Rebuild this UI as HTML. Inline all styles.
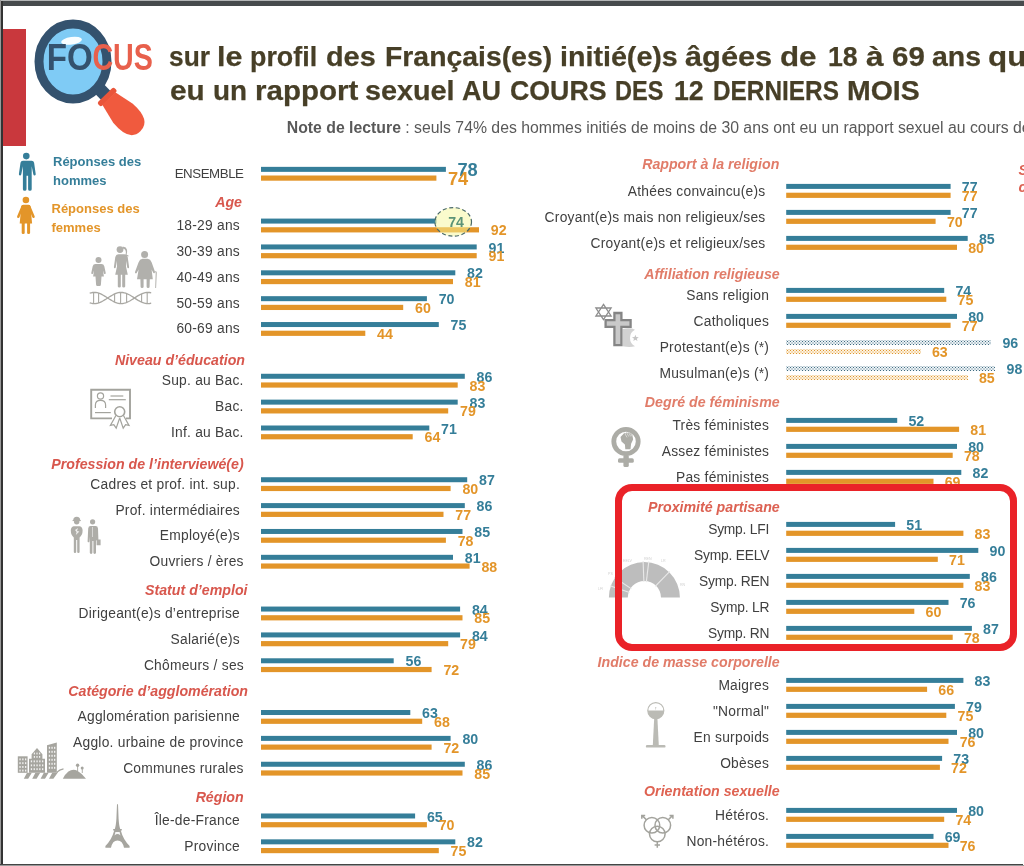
<!DOCTYPE html>
<html lang="fr"><head><meta charset="utf-8"><title>Focus</title>
<style>
html,body{margin:0;padding:0;}
body{width:1024px;height:866px;position:relative;overflow:hidden;background:#fff;font-family:"Liberation Sans", sans-serif;}
.a{position:absolute;white-space:nowrap;}
.b{position:absolute;height:4.8px;}
.bl{background:#357e99;}
.or{background:#e39529;}
.lab{position:absolute;white-space:nowrap;font-size:13.8px;letter-spacing:0.25px;color:#404040;text-align:right;line-height:16px;}
.hd{position:absolute;white-space:nowrap;font-size:14.2px;font-weight:bold;font-style:italic;color:#d65f55;text-align:right;line-height:16px;}
.n{position:absolute;white-space:nowrap;font-size:14.2px;font-weight:bold;line-height:14px;}
.nb{color:#357e99;}
.no{color:#e39529;}
.tw{position:absolute;white-space:nowrap;transform-origin:0 0;font-size:28px;font-weight:bold;color:#473f27;line-height:30px;-webkit-text-stroke:0.25px #473f27;}
.dotb{background-color:#ecf2f5;background-image:radial-gradient(circle,#3f6b80 0.55px,transparent 0.9px),radial-gradient(circle,#3f6b80 0.55px,transparent 0.9px);background-size:3px 3px;background-position:0 0,1.5px 1.5px;}
.doto{background-color:#fdf2e0;background-image:radial-gradient(circle,#dd952f 0.55px,transparent 0.9px),radial-gradient(circle,#dd952f 0.55px,transparent 0.9px);background-size:3px 3px;background-position:0 0,1.5px 1.5px;}
</style></head><body>

<div class="a" style="left:0;top:0;width:1024px;height:1.2px;background:#b4b6b7"></div>
<div class="a" style="left:0;top:1.2px;width:1024px;height:4.5px;background:#474b4d"></div>
<div class="a" style="left:0;top:0;width:1.2px;height:866px;background:#9a9a9a"></div>
<div class="a" style="left:1.2px;top:1px;width:1.5px;height:865px;background:#333"></div>
<div class="a" style="left:0;top:863.8px;width:1023px;height:1.4px;background:#444"></div>
<div class="a" style="left:0;top:865.2px;width:1024px;height:0.8px;background:#9a9a9a"></div>
<div class="a" style="left:2.6px;top:28.6px;width:23.7px;height:117.4px;background:#c9383d"></div>
<svg class="a" style="left:20px;top:10px" width="140" height="135" viewBox="20 10 140 135">
<g transform="translate(73 61.5) rotate(46)"><rect x="34" y="-6.5" width="15" height="13" fill="#34526e"/>
<rect x="46.5" y="-11.5" width="5.5" height="23" rx="2" fill="#e9553a"/>
<path d="M51.5 -9 L72 -13.6 Q97 -15.5 97 0 Q97 15.5 72 13.6 L51.5 9 Z" fill="#f05a3e"/></g>
<ellipse cx="73" cy="61.5" rx="34" ry="37.5" fill="#7fcbf5" stroke="#34526e" stroke-width="9"/>
<ellipse cx="71.5" cy="40.8" rx="10.5" ry="3.8" fill="#fff" opacity="0.95" transform="rotate(-8 71.5 40.5)"/>
<text x="46.8" y="70.2" font-family="Liberation Sans, sans-serif" font-weight="bold" font-size="36" textLength="46" lengthAdjust="spacingAndGlyphs" fill="#34526e">FO</text>
<text x="92.4" y="70.2" font-family="Liberation Sans, sans-serif" font-weight="bold" font-size="36" textLength="60.5" lengthAdjust="spacingAndGlyphs" fill="#e8604c">CUS</text>
</svg>
<span class="tw" style="left:169.0px;top:42.0px;letter-spacing:0.00px;transform:scaleX(0.940)">sur</span>
<span class="tw" style="left:216.5px;top:42.0px;letter-spacing:0.00px;transform:scaleX(1.083)">le</span>
<span class="tw" style="left:250.3px;top:42.0px;letter-spacing:0.00px;transform:scaleX(0.959)">profil</span>
<span class="tw" style="left:325.9px;top:42.0px;letter-spacing:0.00px;transform:scaleX(1.030)">des</span>
<span class="tw" style="left:384.6px;top:42.0px;letter-spacing:0.00px;transform:scaleX(1.013)">Français(es)</span>
<span class="tw" style="left:559.6px;top:42.0px;letter-spacing:-0.00px;transform:scaleX(1.023)">initié(e)s</span>
<span class="tw" style="left:685.3px;top:42.0px;letter-spacing:0.00px;transform:scaleX(1.098)">âgées</span>
<span class="tw" style="left:780.3px;top:42.0px;letter-spacing:0.00px;transform:scaleX(1.117)">de</span>
<span class="tw" style="left:827.8px;top:42.0px;letter-spacing:0.00px;transform:scaleX(0.952)">18</span>
<span class="tw" style="left:865.9px;top:42.0px;letter-spacing:0.17px;transform:scaleX(1.130)">à</span>
<span class="tw" style="left:891.5px;top:42.0px;letter-spacing:0.00px;transform:scaleX(1.053)">69</span>
<span class="tw" style="left:932.1px;top:42.0px;letter-spacing:0.00px;transform:scaleX(1.017)">ans</span>
<span class="tw" style="left:988.4px;top:42.0px;letter-spacing:0.00px;transform:scaleX(1.119)">qui</span>
<span class="tw" style="left:169.7px;top:76.3px;letter-spacing:0.00px;transform:scaleX(1.060)">eu</span>
<span class="tw" style="left:213.4px;top:76.3px;letter-spacing:0.00px;transform:scaleX(0.995)">un</span>
<span class="tw" style="left:255.3px;top:76.3px;letter-spacing:0.00px;transform:scaleX(1.055)">rapport</span>
<span class="tw" style="left:364.6px;top:76.3px;letter-spacing:0.00px;transform:scaleX(1.028)">sexuel</span>
<span class="tw" style="left:462.1px;top:76.3px;letter-spacing:0.00px;transform:scaleX(0.965)">AU</span>
<span class="tw" style="left:509.6px;top:76.3px;letter-spacing:0.00px;transform:scaleX(0.955)">COURS</span>
<span class="tw" style="left:615.3px;top:76.3px;letter-spacing:0.00px;transform:scaleX(0.841)">DES</span>
<span class="tw" style="left:674.0px;top:76.3px;letter-spacing:0.00px;transform:scaleX(0.953)">12</span>
<span class="tw" style="left:713.4px;top:76.3px;letter-spacing:0.00px;transform:scaleX(0.870)">DERNIERS</span>
<span class="tw" style="left:847.1px;top:76.3px;letter-spacing:0.00px;transform:scaleX(1.017)">MOIS</span>
<div class="a" style="left:286.8px;top:119.2px;font-size:15.8px;line-height:18px;color:#595959"><b>Note de lecture</b> : seuls 74% des hommes initiés de moins de 30 ans ont eu un rapport sexuel au cours des 12 derniers mois</div>
<div class="hd" style="color:#dc6152;left:1018.4px;top:162.4px;text-align:left;line-height:17px">Situation<br>conjugale</div>
<svg class="a" style="left:14px;top:150px" width="26" height="90" viewBox="14 150 26 90">
<g fill="#357e99" transform="translate(-0.6 0.4)"><circle cx="26.9" cy="155.7" r="3.3"/>
<path d="M21.5 160.3 h10.8 q2 0 2.4 2 l1.6 11.2 q0.2 1.4 -1 1.5 q-1.1 0.1 -1.4 -1.2 l-1.6 -8 v23 q0 1.6 -1.8 1.6 q-1.8 0 -1.8 -1.6 v-13.5 h-1.6 v13.5 q0 1.6 -1.8 1.6 q-1.8 0 -1.8 -1.6 v-23 l-1.6 8 q-0.3 1.3 -1.4 1.2 q-1.2 -0.1 -1 -1.5 l1.6 -11.2 q0.4 -2 2.4 -2 z"/></g>
<g fill="#e39529"><circle cx="25.9" cy="200" r="3.3"/>
<path d="M23.3 204.8 h5.2 q1.6 0 2 1.6 l1.6 17.1 h-12.4 l1.6 -17.1 q0.4 -1.6 2 -1.6 z"/>
<rect x="21.7" y="222" width="3" height="12" rx="1.3"/><rect x="27.1" y="222" width="3" height="12" rx="1.3"/></g>
<g stroke="#e39529" stroke-width="2.5" stroke-linecap="round" fill="none"><path d="M22.6 206.4 L18.3 216.8 M29.2 206.4 L33.5 216.8"/></g>
</svg>
<div class="a" style="left:53px;top:152px;font-size:13px;font-weight:bold;line-height:19px;color:#357e99">Réponses des<br>hommes</div>
<div class="a" style="left:51.5px;top:198.5px;font-size:13px;font-weight:bold;line-height:19px;color:#e39529">Réponses des<br>femmes</div>
<div class="lab" style="right:780.5px;top:166.2px;font-size:13.3px;letter-spacing:-0.45px">ENSEMBLE</div>
<div class="n nb" style="left:457.4px;top:159.9px;font-size:18.3px;line-height:20px">78</div>
<div class="n no" style="left:447.9px;top:168.6px;font-size:18.3px;line-height:20px">74</div>
<div class="hd" style="right:782.0px;top:194.0px;color:#d8574d">Age</div>
<div class="lab" style="right:784.0px;top:218.0px">18-29 ans</div>
<div class="n no" style="left:490.8px;top:223.3px">92</div>
<div class="lab" style="right:784.0px;top:243.8px">30-39 ans</div>
<div class="n nb" style="left:488.5px;top:240.5px">91</div>
<div class="n no" style="left:488.5px;top:249.2px">91</div>
<div class="lab" style="right:784.0px;top:269.7px">40-49 ans</div>
<div class="n nb" style="left:467.1px;top:266.4px">82</div>
<div class="n no" style="left:464.8px;top:275.1px">81</div>
<div class="lab" style="right:784.0px;top:295.6px">50-59 ans</div>
<div class="n nb" style="left:438.7px;top:292.3px">70</div>
<div class="n no" style="left:415.0px;top:300.9px">60</div>
<div class="lab" style="right:784.0px;top:321.4px">60-69 ans</div>
<div class="n nb" style="left:450.6px;top:318.1px">75</div>
<div class="n no" style="left:377.1px;top:326.8px">44</div>
<div class="hd" style="right:779.0px;top:351.9px;color:#d8574d">Niveau d’éducation</div>
<div class="lab" style="right:780.3px;top:373.2px">Sup. au Bac.</div>
<div class="n nb" style="left:476.6px;top:369.9px">86</div>
<div class="n no" style="left:469.5px;top:378.5px">83</div>
<div class="lab" style="right:780.3px;top:399.0px">Bac.</div>
<div class="n nb" style="left:469.5px;top:395.7px">83</div>
<div class="n no" style="left:460.0px;top:404.4px">79</div>
<div class="lab" style="right:780.3px;top:424.9px">Inf. au Bac.</div>
<div class="n nb" style="left:441.1px;top:421.6px">71</div>
<div class="n no" style="left:424.5px;top:430.2px">64</div>
<div class="hd" style="right:780.3px;top:455.6px;color:#d8574d">Profession de l’interviewé(e)</div>
<div class="lab" style="right:784.0px;top:476.6px">Cadres et prof. int. sup.</div>
<div class="n nb" style="left:479.0px;top:473.3px">87</div>
<div class="n no" style="left:462.4px;top:482.0px">80</div>
<div class="lab" style="right:784.0px;top:502.5px">Prof. intermédiaires</div>
<div class="n nb" style="left:476.6px;top:499.2px">86</div>
<div class="n no" style="left:455.3px;top:507.8px">77</div>
<div class="lab" style="right:784.0px;top:528.4px">Employé(e)s</div>
<div class="n nb" style="left:474.3px;top:525.1px">85</div>
<div class="n no" style="left:457.7px;top:533.7px">78</div>
<div class="lab" style="right:780.3px;top:554.2px">Ouvriers / ères</div>
<div class="n nb" style="left:464.8px;top:550.9px">81</div>
<div class="n no" style="left:481.4px;top:559.6px">88</div>
<div class="hd" style="right:776.5px;top:582.4px;color:#d8574d">Statut d’emploi</div>
<div class="lab" style="right:784.0px;top:606.0px">Dirigeant(e)s d’entreprise</div>
<div class="n nb" style="left:471.9px;top:602.7px">84</div>
<div class="n no" style="left:474.3px;top:611.3px">85</div>
<div class="lab" style="right:784.0px;top:631.8px">Salarié(e)s</div>
<div class="n nb" style="left:471.9px;top:628.5px">84</div>
<div class="n no" style="left:460.0px;top:637.2px">79</div>
<div class="lab" style="right:780.0px;top:657.7px">Chômeurs / ses</div>
<div class="n nb" style="left:405.5px;top:654.4px">56</div>
<div class="n no" style="left:443.4px;top:663.0px">72</div>
<div class="hd" style="right:776.0px;top:683.1px;color:#d8574d">Catégorie d’agglomération</div>
<div class="lab" style="right:784.0px;top:709.4px">Agglomération parisienne</div>
<div class="n nb" style="left:422.1px;top:706.1px">63</div>
<div class="n no" style="left:434.0px;top:714.8px">68</div>
<div class="lab" style="right:780.3px;top:735.3px">Agglo. urbaine de province</div>
<div class="n nb" style="left:462.4px;top:732.0px">80</div>
<div class="n no" style="left:443.4px;top:740.6px">72</div>
<div class="lab" style="right:780.3px;top:761.1px">Communes rurales</div>
<div class="n nb" style="left:476.6px;top:757.8px">86</div>
<div class="n no" style="left:474.3px;top:766.5px">85</div>
<div class="hd" style="right:780.3px;top:788.6px;color:#d8574d">Région</div>
<div class="lab" style="right:784.0px;top:812.9px">Île-de-France</div>
<div class="n nb" style="left:426.9px;top:809.6px">65</div>
<div class="n no" style="left:438.7px;top:818.2px">70</div>
<div class="lab" style="right:784.0px;top:838.7px">Province</div>
<div class="n nb" style="left:467.1px;top:835.4px">82</div>
<div class="n no" style="left:450.6px;top:844.1px">75</div>
<div class="hd" style="right:244.7px;top:156.1px;color:#e17c69">Rapport à la religion</div>
<div class="lab" style="right:258.5px;top:183.9px">Athées convaincu(e)s</div>
<div class="n nb" style="left:961.8px;top:179.7px">77</div>
<div class="n no" style="left:961.8px;top:188.5px">77</div>
<div class="lab" style="right:258.5px;top:209.9px">Croyant(e)s mais non religieux/ses</div>
<div class="n nb" style="left:961.8px;top:205.7px">77</div>
<div class="n no" style="left:946.9px;top:214.5px">70</div>
<div class="lab" style="right:258.5px;top:235.9px">Croyant(e)s et religieux/ses</div>
<div class="n nb" style="left:978.9px;top:231.7px">85</div>
<div class="n no" style="left:968.2px;top:240.5px">80</div>
<div class="hd" style="right:244.3px;top:265.6px;color:#e17c69">Affiliation religieuse</div>
<div class="lab" style="right:254.8px;top:287.9px">Sans religion</div>
<div class="n nb" style="left:955.4px;top:283.7px">74</div>
<div class="n no" style="left:957.5px;top:292.5px">75</div>
<div class="lab" style="right:254.8px;top:313.9px">Catholiques</div>
<div class="n nb" style="left:968.2px;top:309.7px">80</div>
<div class="n no" style="left:961.8px;top:318.5px">77</div>
<div class="lab" style="right:254.8px;top:339.9px">Protestant(e)s (*)</div>
<div class="b dotb" style="left:786.2px;top:340.0px;width:205.0px;height:5px"></div>
<div class="b doto" style="left:786.2px;top:348.9px;width:134.5px;height:5px"></div>
<div class="n nb" style="left:1002.4px;top:335.7px">96</div>
<div class="n no" style="left:931.9px;top:344.5px">63</div>
<div class="lab" style="right:254.8px;top:365.9px">Musulman(e)s (*)</div>
<div class="b dotb" style="left:786.2px;top:366.0px;width:209.2px;height:5px"></div>
<div class="b doto" style="left:786.2px;top:374.9px;width:181.5px;height:5px"></div>
<div class="n nb" style="left:1006.6px;top:361.7px">98</div>
<div class="n no" style="left:978.9px;top:370.5px">85</div>
<div class="hd" style="right:244.3px;top:393.6px;color:#e17c69">Degré de féminisme</div>
<div class="lab" style="right:254.8px;top:417.9px">Très féministes</div>
<div class="n nb" style="left:908.4px;top:413.7px">52</div>
<div class="n no" style="left:970.3px;top:422.5px">81</div>
<div class="lab" style="right:254.8px;top:443.9px">Assez féministes</div>
<div class="n nb" style="left:968.2px;top:439.7px">80</div>
<div class="n no" style="left:963.9px;top:448.5px">78</div>
<div class="lab" style="right:254.8px;top:469.9px">Pas féministes</div>
<div class="n nb" style="left:972.5px;top:465.7px">82</div>
<div class="n no" style="left:944.7px;top:474.5px">69</div>
<div class="hd" style="right:244.3px;top:498.6px;color:#dc6152">Proximité partisane</div>
<div class="lab" style="right:254.8px;top:521.9px;letter-spacing:-0.2px">Symp. LFI</div>
<div class="n nb" style="left:906.3px;top:517.7px">51</div>
<div class="n no" style="left:974.6px;top:526.5px">83</div>
<div class="lab" style="right:254.8px;top:547.9px;letter-spacing:-0.2px">Symp. EELV</div>
<div class="n nb" style="left:989.6px;top:543.7px">90</div>
<div class="n no" style="left:949.0px;top:552.5px">71</div>
<div class="lab" style="right:254.8px;top:573.9px;letter-spacing:-0.2px">Symp. REN</div>
<div class="n nb" style="left:981.0px;top:569.7px">86</div>
<div class="n no" style="left:974.6px;top:578.5px">83</div>
<div class="lab" style="right:254.8px;top:599.9px;letter-spacing:-0.2px">Symp. LR</div>
<div class="n nb" style="left:959.7px;top:595.7px">76</div>
<div class="n no" style="left:925.5px;top:604.5px">60</div>
<div class="lab" style="right:254.8px;top:625.9px;letter-spacing:-0.2px">Symp. RN</div>
<div class="n nb" style="left:983.1px;top:621.7px">87</div>
<div class="n no" style="left:963.9px;top:630.5px">78</div>
<div class="hd" style="right:244.3px;top:654.4px;color:#e17c69">Indice de masse corporelle</div>
<div class="lab" style="right:254.8px;top:677.9px">Maigres</div>
<div class="n nb" style="left:974.6px;top:673.7px">83</div>
<div class="n no" style="left:938.3px;top:682.5px">66</div>
<div class="lab" style="right:254.8px;top:703.9px">"Normal"</div>
<div class="n nb" style="left:966.1px;top:699.7px">79</div>
<div class="n no" style="left:957.5px;top:708.5px">75</div>
<div class="lab" style="right:254.8px;top:729.9px">En surpoids</div>
<div class="n nb" style="left:968.2px;top:725.7px">80</div>
<div class="n no" style="left:959.7px;top:734.5px">76</div>
<div class="lab" style="right:254.8px;top:755.9px">Obèses</div>
<div class="n nb" style="left:953.3px;top:751.7px">73</div>
<div class="n no" style="left:951.1px;top:760.5px">72</div>
<div class="hd" style="right:244.3px;top:783.4px;color:#df6352">Orientation sexuelle</div>
<div class="lab" style="right:254.8px;top:807.9px">Hétéros.</div>
<div class="n nb" style="left:968.2px;top:803.7px">80</div>
<div class="n no" style="left:955.4px;top:812.5px">74</div>
<div class="lab" style="right:254.8px;top:833.9px">Non-hétéros.</div>
<div class="n nb" style="left:944.7px;top:829.7px">69</div>
<div class="n no" style="left:959.7px;top:838.5px">76</div>
<svg class="a" style="left:0;top:0" width="1024" height="866" viewBox="0 0 1024 866"><rect x="261" y="166.85" width="184.9" height="5" fill="#357e99"/><rect x="261" y="175.50" width="175.4" height="5.2" fill="#e39529"/><rect x="261" y="218.58" width="175.4" height="5" fill="#357e99"/><rect x="261" y="227.23" width="218.0" height="5.2" fill="#e39529"/><rect x="261" y="244.44" width="215.7" height="5" fill="#357e99"/><rect x="261" y="253.09" width="215.7" height="5.2" fill="#e39529"/><rect x="261" y="270.31" width="194.3" height="5" fill="#357e99"/><rect x="261" y="278.96" width="192.0" height="5.2" fill="#e39529"/><rect x="261" y="296.17" width="165.9" height="5" fill="#357e99"/><rect x="261" y="304.82" width="142.2" height="5.2" fill="#e39529"/><rect x="261" y="322.04" width="177.8" height="5" fill="#357e99"/><rect x="261" y="330.69" width="104.3" height="5.2" fill="#e39529"/><rect x="261" y="373.77" width="203.8" height="5" fill="#357e99"/><rect x="261" y="382.42" width="196.7" height="5.2" fill="#e39529"/><rect x="261" y="399.63" width="196.7" height="5" fill="#357e99"/><rect x="261" y="408.28" width="187.2" height="5.2" fill="#e39529"/><rect x="261" y="425.50" width="168.3" height="5" fill="#357e99"/><rect x="261" y="434.15" width="151.7" height="5.2" fill="#e39529"/><rect x="261" y="477.23" width="206.2" height="5" fill="#357e99"/><rect x="261" y="485.88" width="189.6" height="5.2" fill="#e39529"/><rect x="261" y="503.10" width="203.8" height="5" fill="#357e99"/><rect x="261" y="511.75" width="182.5" height="5.2" fill="#e39529"/><rect x="261" y="528.96" width="201.5" height="5" fill="#357e99"/><rect x="261" y="537.61" width="184.9" height="5.2" fill="#e39529"/><rect x="261" y="554.82" width="192.0" height="5" fill="#357e99"/><rect x="261" y="563.47" width="208.6" height="5.2" fill="#e39529"/><rect x="261" y="606.55" width="199.1" height="5" fill="#357e99"/><rect x="261" y="615.20" width="201.5" height="5.2" fill="#e39529"/><rect x="261" y="632.42" width="199.1" height="5" fill="#357e99"/><rect x="261" y="641.07" width="187.2" height="5.2" fill="#e39529"/><rect x="261" y="658.28" width="132.7" height="5" fill="#357e99"/><rect x="261" y="666.93" width="170.6" height="5.2" fill="#e39529"/><rect x="261" y="710.01" width="149.3" height="5" fill="#357e99"/><rect x="261" y="718.66" width="161.2" height="5.2" fill="#e39529"/><rect x="261" y="735.88" width="189.6" height="5" fill="#357e99"/><rect x="261" y="744.53" width="170.6" height="5.2" fill="#e39529"/><rect x="261" y="761.75" width="203.8" height="5" fill="#357e99"/><rect x="261" y="770.39" width="201.5" height="5.2" fill="#e39529"/><rect x="261" y="813.48" width="154.1" height="5" fill="#357e99"/><rect x="261" y="822.12" width="165.9" height="5.2" fill="#e39529"/><rect x="261" y="839.34" width="194.3" height="5" fill="#357e99"/><rect x="261" y="847.99" width="177.8" height="5.2" fill="#e39529"/><rect x="786.2" y="183.90" width="164.4" height="5" fill="#357e99"/><rect x="786.2" y="192.70" width="164.4" height="5.2" fill="#e39529"/><rect x="786.2" y="209.90" width="164.4" height="5" fill="#357e99"/><rect x="786.2" y="218.70" width="149.4" height="5.2" fill="#e39529"/><rect x="786.2" y="235.90" width="181.5" height="5" fill="#357e99"/><rect x="786.2" y="244.70" width="170.8" height="5.2" fill="#e39529"/><rect x="786.2" y="287.90" width="158.0" height="5" fill="#357e99"/><rect x="786.2" y="296.70" width="160.1" height="5.2" fill="#e39529"/><rect x="786.2" y="313.90" width="170.8" height="5" fill="#357e99"/><rect x="786.2" y="322.70" width="164.4" height="5.2" fill="#e39529"/><rect x="786.2" y="417.90" width="111.0" height="5" fill="#357e99"/><rect x="786.2" y="426.70" width="172.9" height="5.2" fill="#e39529"/><rect x="786.2" y="443.90" width="170.8" height="5" fill="#357e99"/><rect x="786.2" y="452.70" width="166.5" height="5.2" fill="#e39529"/><rect x="786.2" y="469.90" width="175.1" height="5" fill="#357e99"/><rect x="786.2" y="478.70" width="147.3" height="5.2" fill="#e39529"/><rect x="786.2" y="521.90" width="108.9" height="5" fill="#357e99"/><rect x="786.2" y="530.70" width="177.2" height="5.2" fill="#e39529"/><rect x="786.2" y="547.90" width="192.1" height="5" fill="#357e99"/><rect x="786.2" y="556.70" width="151.6" height="5.2" fill="#e39529"/><rect x="786.2" y="573.90" width="183.6" height="5" fill="#357e99"/><rect x="786.2" y="582.70" width="177.2" height="5.2" fill="#e39529"/><rect x="786.2" y="599.90" width="162.3" height="5" fill="#357e99"/><rect x="786.2" y="608.70" width="128.1" height="5.2" fill="#e39529"/><rect x="786.2" y="625.90" width="185.7" height="5" fill="#357e99"/><rect x="786.2" y="634.70" width="166.5" height="5.2" fill="#e39529"/><rect x="786.2" y="677.90" width="177.2" height="5" fill="#357e99"/><rect x="786.2" y="686.70" width="140.9" height="5.2" fill="#e39529"/><rect x="786.2" y="703.90" width="168.7" height="5" fill="#357e99"/><rect x="786.2" y="712.70" width="160.1" height="5.2" fill="#e39529"/><rect x="786.2" y="729.90" width="170.8" height="5" fill="#357e99"/><rect x="786.2" y="738.70" width="162.3" height="5.2" fill="#e39529"/><rect x="786.2" y="755.90" width="155.9" height="5" fill="#357e99"/><rect x="786.2" y="764.70" width="153.7" height="5.2" fill="#e39529"/><rect x="786.2" y="807.90" width="170.8" height="5" fill="#357e99"/><rect x="786.2" y="816.70" width="158.0" height="5.2" fill="#e39529"/><rect x="786.2" y="833.90" width="147.3" height="5" fill="#357e99"/><rect x="786.2" y="842.70" width="162.3" height="5.2" fill="#e39529"/></svg>
<svg class="a" style="left:430px;top:203px" width="48" height="38" viewBox="430 203 48 38"><ellipse cx="453.2" cy="221.9" rx="18.3" ry="14.3" fill="#f6f79a" fill-opacity="0.5" stroke="#4a6a6a" stroke-width="1.2" stroke-dasharray="4 2.6"/></svg>
<div class="n" style="left:448.2px;top:214.7px;color:#5b9377">74</div>
<svg class="a" style="left:0;top:0" width="1024" height="866" viewBox="0 0 1024 866">
<g fill="#b1b0ac" stroke="none">
<circle cx="98.5" cy="260" r="3"/>
<path d="M95.5 264 h6 q2.2 0 2.8 2.2 l1.4 6.6 q0.2 1.2 -0.7 1.3 q-0.8 0.1 -1.1 -0.9 l-1 -3 l1 6.3 h-2.4 l-0.6 8.2 q-0.1 1.2 -1.2 1.2 h-2.4 q-1.1 0 -1.2 -1.2 l-0.6 -8.2 h-2.4 l1 -6.3 l-1 3 q-0.3 1 -1.1 0.9 q-0.9 -0.1 -0.7 -1.3 l1.4 -6.6 q0.6 -2.2 2.8 -2.2 z"/>
<circle cx="120" cy="249.6" r="3.4"/>
<path d="M122.5 246.8 q3.6 -0.6 4.4 2.6 q0.6 2.6 -0.4 5.2 l2.2 1.2 l-0.4 0.8 l-3 -1.2 q1 -3 0.2 -5 q-0.6 -1.8 -2.6 -1.6 z"/>
<path d="M115.5 254.3 h9 q2.6 0 3.2 2.6 l1.4 10 q0.1 1.2 -0.8 1.3 q-0.9 0.1 -1.1 -1 l-1.2 -6.4 v5.8 l1.8 8.2 h-2.6 v11.6 q0 1.1 -1.5 1.1 q-1.5 0 -1.5 -1.1 v-11.6 h-1.4 v11.6 q0 1.1 -1.5 1.1 q-1.5 0 -1.5 -1.1 v-11.6 h-2.6 l1.8 -8.2 v-5.8 l-1.2 6.4 q-0.2 1.1 -1.1 1 q-0.9 -0.1 -0.8 -1.3 l1.4 -10 q0.6 -2.6 3.2 -2.6 z"/>
<circle cx="144.6" cy="254.6" r="3.5"/>
<path d="M141.5 258.8 h6.2 q2.8 0.4 4 3.6 l3.2 9.2 q0.4 1.2 -0.5 1.6 q-0.9 0.3 -1.3 -0.6 l-1.5 -3.2 l1.2 9.8 h-3 l-0.2 7.6 q0 1.2 -1.5 1.2 q-1.5 0 -1.5 -1.2 v-7.6 h-3 v7.6 q0 1.2 -1.5 1.2 q-1.5 0 -1.5 -1.2 l-0.2 -7.6 h-3.4 l1.6 -9.8 l-1.8 3.4 q-0.5 0.9 -1.3 0.5 q-0.8 -0.4 -0.4 -1.5 l3.4 -9.4 q1.2 -3.2 4 -3.6 z"/>
<path d="M154.8 271.5 q1.8 -0.8 2 1 l-0.7 15.5 h-0.9 l0.5 -15.4 q0 -0.6 -0.6 -0.3 z"/>
</g>
<g fill="none" stroke="#a9a8a3" stroke-width="1.3">
<polyline points="89.7,293.2 91.2,292.8 92.7,292.5 94.2,292.4 95.7,292.5 97.2,292.7 98.7,293.1 100.2,293.7 101.7,294.4 103.2,295.2 104.7,296.1 106.2,297.0 107.7,298.0 109.2,299.0 110.7,299.9 112.2,300.8 113.7,301.6 115.2,302.3 116.7,302.9 118.2,303.3 119.7,303.5 121.2,303.6 122.7,303.5 124.2,303.2 125.7,302.8 127.2,302.2 128.7,301.5 130.2,300.7 131.7,299.8 133.2,298.9 134.7,297.9 136.2,296.9 137.7,295.9 139.2,295.1 140.7,294.3 142.2,293.6 143.7,293.1 145.2,292.7 146.7,292.5 148.2,292.4 149.7,292.5 151.2,292.8"/><polyline points="89.7,302.8 91.2,303.2 92.7,303.5 94.2,303.6 95.7,303.5 97.2,303.3 98.7,302.9 100.2,302.3 101.7,301.6 103.2,300.8 104.7,299.9 106.2,299.0 107.7,298.0 109.2,297.0 110.7,296.1 112.2,295.2 113.7,294.4 115.2,293.7 116.7,293.1 118.2,292.7 119.7,292.5 121.2,292.4 122.7,292.5 124.2,292.8 125.7,293.2 127.2,293.8 128.7,294.5 130.2,295.3 131.7,296.2 133.2,297.1 134.7,298.1 136.2,299.1 137.7,300.1 139.2,300.9 140.7,301.7 142.2,302.4 143.7,302.9 145.2,303.3 146.7,303.5 148.2,303.6 149.7,303.5 151.2,303.2"/>
<line x1="93.6" y1="292.4" x2="93.6" y2="303.6" stroke-width="1.1"/>
<line x1="98.6" y1="293.1" x2="98.6" y2="302.9" stroke-width="1.1"/>
<line x1="114.6" y1="293.9" x2="114.6" y2="302.1" stroke-width="1.1"/>
<line x1="120.6" y1="292.4" x2="120.6" y2="303.6" stroke-width="1.1"/>
<line x1="126.6" y1="293.5" x2="126.6" y2="302.5" stroke-width="1.1"/>
<line x1="141.6" y1="293.9" x2="141.6" y2="302.1" stroke-width="1.1"/>
<line x1="147.2" y1="292.4" x2="147.2" y2="303.6" stroke-width="1.1"/>
</g>
<g fill="none" stroke="#a3a39d" stroke-width="1.9">
<path d="M112 418.4 H91.2 V389.7 H130 V418.4 H126"/>
</g>
<g fill="none" stroke="#a3a39d" stroke-width="1.2">
<circle cx="100.5" cy="396" r="3.1"/>
<path d="M95.4 408 v-3 q0 -4.6 5.1 -4.6 q5.1 0 5.1 4.6 v3"/>
<line x1="110.5" y1="396" x2="123.3" y2="396"/><line x1="108.8" y1="399.7" x2="125.8" y2="399.7"/><line x1="95" y1="412.6" x2="110.8" y2="412.6"/>
<circle cx="119.7" cy="411.8" r="5" fill="#fff" stroke-width="1.6"/>
<path d="M115.8 415.8 l-5.4 9.6 l3.4 -0.8 l2.4 3.6 l3.4 -10 M123.6 415.8 l5.4 9.6 l-3.4 -0.8 l-2.4 3.6 l-3.4 -10" fill="#fff"/>
</g>
<g fill="#aeada8">
<circle cx="76.7" cy="521.8" r="2.7"/><path d="M73.2 520.3 q0 -3.6 3.5 -3.6 q3.5 0 3.5 3.6 z"/><rect x="72.6" y="520" width="8.2" height="1.1"/>
<path d="M73.6 526.2 h6.2 q2.8 0.6 2.8 4.4 q0 4.4 -3 7 v14.4 q0 1 -1.2 1 q-1.2 0 -1.2 -1 v-12 h-1 v12 q0 1 -1.2 1 q-1.2 0 -1.2 -1 v-14.4 q-3 -2.6 -3 -7 q0 -3.8 2.8 -4.4 z"/>
<circle cx="92.6" cy="521.8" r="2.6"/>
<path d="M89.6 526 h6 q2.2 0 2.4 2.4 l0.4 11.2 h2.2 v5.6 h-4 v-4.6 l-0.6 -0.4 v12.6 q0 1.1 -1.3 1.1 q-1.3 0 -1.3 -1.1 v-11.8 h-1 v11.8 q0 1.1 -1.3 1.1 q-1.3 0 -1.3 -1.1 v-16 l-0.4 4.6 q-0.1 1 -1 0.9 q-0.9 -0.1 -0.8 -1.1 l0.6 -12.8 q0.2 -2.4 2.4 -2.4 z"/>
</g>
<path d="M75 530 l3 -2 l-1 3 l2.4 0.6 l-3.6 3.4 l0.8 -3 z" fill="#fff" opacity="0.8"/>
<line x1="92.6" y1="527" x2="92.6" y2="537" stroke="#fff" stroke-width="0.7" opacity="0.8"/>
<g fill="#a6a59f">
<rect x="17.8" y="756.3" width="9.8" height="16.5"/>
<path d="M29 772.8 v-14 h2.6 v-4.6 l5.4 -6.2 l5.4 6.2 v4.6 h2.6 v14 z"/>
<path d="M47 772.8 v-27.6 l9.8 -2.6 v30.2 z"/>
<path d="M27 772.8 l-3.2 6 h4.4 l3.6 -6 z M35.4 772.8 l-3.2 6 h4.4 l3.6 -6 z M43.8 772.8 l-3.2 6 h4.4 l3.6 -6 z M52.2 772.8 l-3.2 6 h4.4 l4.8 -6.8 q2 -2 5.4 -2.6 l-0.2 -1.2 q-4.4 0.6 -6.8 3.6 l0 1 z"/>
<path d="M62.8 778.8 q1 -3.6 5.6 -7.4 q4.6 -3 9 -0.6 q5 3 8.6 8 z"/>
<circle cx="77.6" cy="765.2" r="1.7"/><rect x="77.2" y="765" width="0.9" height="6"/><circle cx="82.2" cy="768" r="1.5"/><rect x="81.8" y="768" width="0.9" height="5"/>
</g>
<g fill="#fff" opacity="0.85">
<rect x="19.4" y="758.4" width="1.3" height="1.9"/>
<rect x="22.2" y="758.4" width="1.3" height="1.9"/>
<rect x="25" y="758.4" width="1.3" height="1.9"/>
<rect x="19.4" y="762.2" width="1.3" height="1.9"/>
<rect x="22.2" y="762.2" width="1.3" height="1.9"/>
<rect x="25" y="762.2" width="1.3" height="1.9"/>
<rect x="19.4" y="766" width="1.3" height="1.9"/>
<rect x="22.2" y="766" width="1.3" height="1.9"/>
<rect x="25" y="766" width="1.3" height="1.9"/>
<rect x="19.4" y="769.6" width="1.3" height="1.9"/>
<rect x="22.2" y="769.6" width="1.3" height="1.9"/>
<rect x="25" y="769.6" width="1.3" height="1.9"/>
<rect x="48.8" y="746.8" width="1.3" height="2"/>
<rect x="51.4" y="746.8" width="1.3" height="2"/>
<rect x="54" y="746.8" width="1.3" height="2"/>
<rect x="48.8" y="750.8" width="1.3" height="2"/>
<rect x="51.4" y="750.8" width="1.3" height="2"/>
<rect x="54" y="750.8" width="1.3" height="2"/>
<rect x="48.8" y="754.8" width="1.3" height="2"/>
<rect x="51.4" y="754.8" width="1.3" height="2"/>
<rect x="54" y="754.8" width="1.3" height="2"/>
<rect x="48.8" y="758.8" width="1.3" height="2"/>
<rect x="51.4" y="758.8" width="1.3" height="2"/>
<rect x="54" y="758.8" width="1.3" height="2"/>
<rect x="48.8" y="762.8" width="1.3" height="2"/>
<rect x="51.4" y="762.8" width="1.3" height="2"/>
<rect x="54" y="762.8" width="1.3" height="2"/>
<rect x="48.8" y="766.8" width="1.3" height="2"/>
<rect x="51.4" y="766.8" width="1.3" height="2"/>
<rect x="54" y="766.8" width="1.3" height="2"/>
<rect x="30.8" y="760.4" width="1.3" height="1.9"/>
<rect x="33.6" y="760.4" width="1.3" height="1.9"/>
<rect x="36.4" y="760.4" width="1.3" height="1.9"/>
<rect x="39.2" y="760.4" width="1.3" height="1.9"/>
<rect x="42" y="760.4" width="1.3" height="1.9"/>
<rect x="30.8" y="764.4" width="1.3" height="1.9"/>
<rect x="33.6" y="764.4" width="1.3" height="1.9"/>
<rect x="36.4" y="764.4" width="1.3" height="1.9"/>
<rect x="39.2" y="764.4" width="1.3" height="1.9"/>
<rect x="42" y="764.4" width="1.3" height="1.9"/>
<rect x="30.8" y="768.2" width="1.3" height="1.9"/>
<rect x="33.6" y="768.2" width="1.3" height="1.9"/>
<rect x="36.4" y="768.2" width="1.3" height="1.9"/>
<rect x="39.2" y="768.2" width="1.3" height="1.9"/>
<rect x="42" y="768.2" width="1.3" height="1.9"/>
<rect x="33.8" y="752.6" width="1.2" height="1.8"/>
<rect x="36.4" y="752.6" width="1.2" height="1.8"/>
<rect x="39" y="752.6" width="1.2" height="1.8"/>
<rect x="33.8" y="756" width="1.2" height="1.8"/>
<rect x="36.4" y="756" width="1.2" height="1.8"/>
<rect x="39" y="756" width="1.2" height="1.8"/>
</g>
<g fill="#a6a59f">
<path d="M117 804.3 h1 l0.6 14.5 q0.4 6.8 1.6 10.2 h1.6 v1.6 h-1 q2.4 9.2 8.8 15.4 l0 1.8 h-5.6 q-1.4 -7.4 -6.5 -7.4 q-5.1 0 -6.5 7.4 h-5.6 l0 -1.8 q6.400 -6.2 8.800 -15.4 h-1 v-1.600 h1.600 q1.200 -3.400 1.600 -10.200 z"/>
</g>
<path d="M115.4 832 h4.200 l0.800 3.400 q-1.400 -1.400 -2.900 -1.400 q-1.500 0 -2.900 1.400 z" fill="#fff" opacity="0.9"/>
<g fill="none" stroke="#8c8c8c" stroke-width="1.3" stroke-linejoin="miter">
<path d="M603.5 304.4 l7.600 11.600 h-15.200 z M603.5 319.600 l-7.600 -11.600 h15.200 z"/>
</g>
<path d="M622.5 329 q8 -1.600 12.500 0.800 q-5 2.600 -5 8.200 q0 5.600 5 8.200 q-5 1.600 -12.500 0 z" fill="#d2d2d2"/>
<path d="M635.4 334.800 l0.900 2.300 l2.500 0.100 l-2 1.500 l0.700 2.400 l-2.100 -1.400 l-2.100 1.400 l0.700 -2.400 l-2 -1.500 l2.500 -0.100 z" fill="#c6c6c6"/>
<path d="M614.400 313 h7 v7.200 h9.200 v6.600 h-9.200 v18.400 h-7 v-18.400 h-8.800 v-6.600 h8.800 z" fill="#c9c9c9" stroke="#858585" stroke-width="2.300"/>
<circle cx="626" cy="441.500" r="12.200" fill="none" stroke="#acaca6" stroke-width="4.800"/>
<rect x="623.400" y="455" width="5.400" height="12" rx="1.600" fill="#acaca6"/><rect x="618" y="458.300" width="15.800" height="4.500" rx="1.600" fill="#acaca6"/>
<path d="M620.500 437 l4 -4.200 l1.200 0.800 l0.800 -1.400 l1.400 0.800 l0.800 -1 l1.400 1 l0.600 -0.600 l1.600 1.400 l0.800 5.800 l-2 4.200 l-0.600 5.400 h-5.200 l-0.400 -4.800 l-3.400 -3 z" fill="#acaca6"/>
<path d="M624.800 433.400 l2.200 4 M626.600 432.600 l2.200 4 M628.600 432.400 l2 4 M630.600 433 l1.600 3.400" stroke="#fff" stroke-width="0.600" opacity="0.800" fill="none"/>
<path d="M608.9 597.6 A35.5 35.5 0 0 1 679.9 597.6 L661.0 597.6 A16.6 16.6 0 0 0 627.8 597.6 Z" fill="#bdbdbd"/>
<line x1="629.6" y1="592.5" x2="609.9" y2="585.7" stroke="#e9e9e9" stroke-width="1.100"/>
<line x1="631.5" y1="588.9" x2="614.1" y2="577.2" stroke="#e9e9e9" stroke-width="1.100"/>
<line x1="643.9" y1="582.0" x2="643.1" y2="561.1" stroke="#e9e9e9" stroke-width="1.100"/>
<line x1="646.3" y1="582.1" x2="648.8" y2="561.4" stroke="#e9e9e9" stroke-width="1.100"/>
<line x1="655.2" y1="586.4" x2="669.8" y2="571.3" stroke="#e9e9e9" stroke-width="1.100"/>
<g font-family="Liberation Sans, sans-serif" font-size="3.600" fill="#d0d0d0">
<text x="598" y="590">LFI</text>
<text x="608" y="575">PS</text>
<text x="623" y="562">EELV</text>
<text x="644" y="559.5">REN</text>
<text x="661" y="562">LR</text>
<text x="680" y="585.5">RN</text>
</g>
<circle cx="655.800" cy="710.600" r="8" fill="#fff" stroke="#bbbbb5" stroke-width="1.200"/>
<path d="M647.800 710.600 a8 8 0 0 0 16 0 z" fill="#bbbbb5"/>
<path d="M655.800 710.600 l-0.500 -3.500 h1 z" fill="#bbbbb5"/>
<path d="M654.200 718 h3.200 l1.400 27.600 h-6 z" fill="#bbbbb5"/><rect x="645.900" y="745" width="19.600" height="2.600" rx="1.200" fill="#bbbbb5"/>
<g fill="none" stroke="#a3a39d" stroke-width="1.500">
<circle cx="651.900" cy="825.300" r="7.800"/><circle cx="662.800" cy="825.300" r="7.800"/><circle cx="657.300" cy="834" r="7.800"/>
<path d="M646.400 819.800 l-4.200 -4.200 M641.800 818.800 v-3.400 h3.400 M668.300 819.800 l4.200 -4.200 M672.900 818.800 v-3.400 h-3.400 M657.300 841.800 v6 M654.600 845 h5.400"/>
</g>
</svg>
<div class="a" style="left:615.2px;top:484px;width:387.6px;height:153.3px;border:7px solid #ea2228;border-radius:17px"></div>
</body></html>
